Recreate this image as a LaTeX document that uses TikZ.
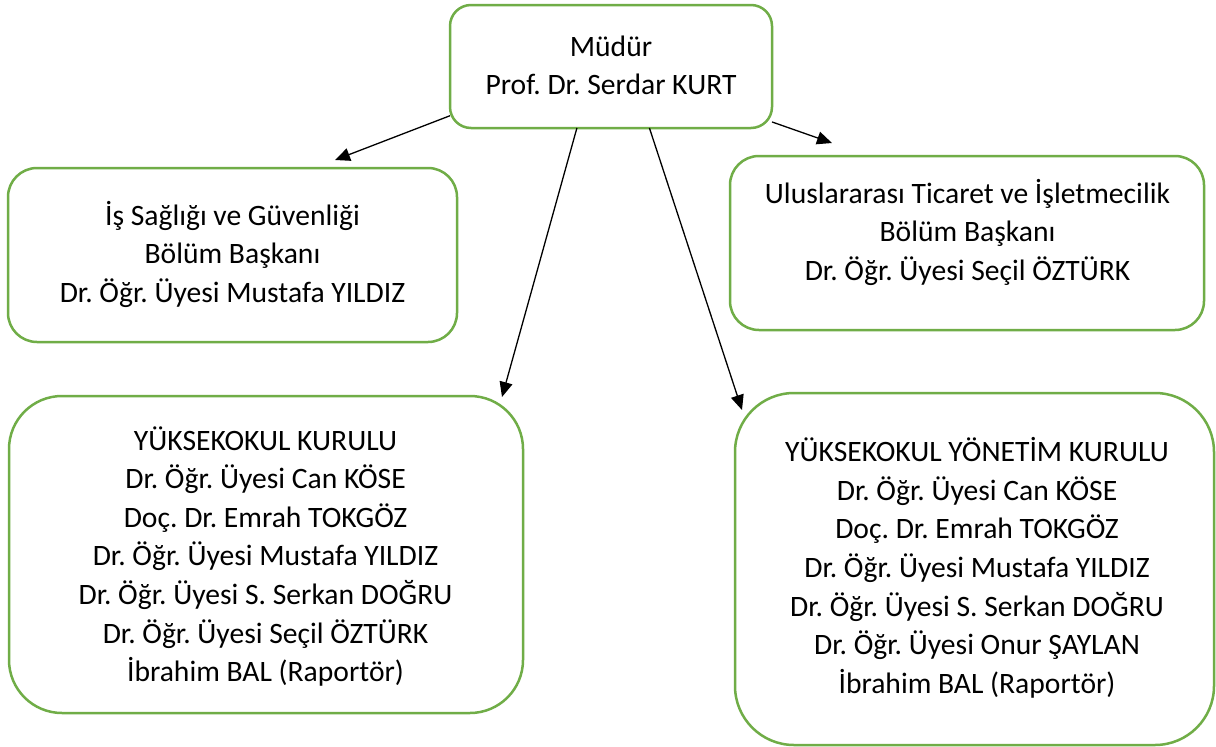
\documentclass[tikz,border=0pt]{standalone}
\usepackage{fontspec}
\setmainfont{Carlito}
\usetikzlibrary{arrows.meta}
\definecolor{boxgreen}{HTML}{70AD47}
\newcommand\boxlines[1]{\vtop{\frenchspacing\baselineskip=38.6pt\halign{\hfil##\hfil\cr#1\crcr}}}
\begin{document}
\begin{tikzpicture}[x=1pt,y=-1pt,
  box/.style={draw=boxgreen,line width=2.5pt,fill=white,inner sep=0pt,outer sep=0pt},
  txt/.style={anchor=base,inner sep=0pt,font=\fontsize{29.6}{38.6}\selectfont},
  conn/.style={line width=1.3pt,-{Triangle[length=15pt,width=13pt]}}]
\useasboundingbox (0,0) rectangle (1216,747);
\fill[white] (0,0) rectangle (1216,747);
% boxes
\node[box,minimum width=322pt,minimum height=123pt,rounded corners=21pt] (mudur) at (611,66.5) {};
\node[box,minimum width=449pt,minimum height=174pt,rounded corners=29pt] (isg) at (232.5,255) {};
\node[box,minimum width=474pt,minimum height=174pt,rounded corners=29pt] (utic) at (967,243) {};
\node[box,minimum width=514pt,minimum height=317pt,rounded corners=53pt] (yk) at (266,554.5) {};
\node[box,minimum width=479pt,minimum height=352pt,rounded corners=59pt] (ykk) at (974.5,569) {};
% texts
\node[txt] (mudurT) at (611,56) {\boxlines{Müdür\cr Prof. Dr. Serdar KURT}};
\node[txt] (isgT) at (232.5,225) {\boxlines{İş Sağlığı ve Güvenliği\cr Bölüm Başkanı\cr Dr. Öğr. Üyesi Mustafa YILDIZ}};
\node[txt] (uticT) at (967.5,203) {\boxlines{Uluslararası Ticaret ve İşletmecilik\cr Bölüm Başkanı\cr Dr. Öğr. Üyesi Seçil ÖZTÜRK}};
\node[txt] (ykT) at (265.5,450) {\boxlines{YÜKSEKOKUL KURULU\cr Dr. Öğr. Üyesi Can KÖSE\cr Doç. Dr. Emrah TOKGÖZ\cr Dr. Öğr. Üyesi Mustafa YILDIZ\cr Dr. Öğr. Üyesi S. Serkan DOĞRU\cr Dr. Öğr. Üyesi Seçil ÖZTÜRK\cr İbrahim BAL (Raportör)}};
\node[txt] (ykkT) at (977,461.7) {\boxlines{YÜKSEKOKUL YÖNETİM KURULU\cr Dr. Öğr. Üyesi Can KÖSE\cr Doç. Dr. Emrah TOKGÖZ\cr Dr. Öğr. Üyesi Mustafa YILDIZ\cr Dr. Öğr. Üyesi S. Serkan DOĞRU\cr Dr. Öğr. Üyesi Onur ŞAYLAN\cr İbrahim BAL (Raportör)}};
% arrow tips
\coordinate (tipIsg) at (335,160);
\coordinate (tipYk) at (502,397);
\coordinate (tipYkk) at (742,410);
\coordinate (tipUtic) at (832,143);
% connectors
\draw[conn] (mudur.197.5) -- (tipIsg);
\draw[conn] (mudur.241.8) -- (tipYk);
\draw[conn] (mudur.302.4) -- (tipYkk);
\draw[conn] (mudur.341.9) -- (tipUtic);
\end{tikzpicture}
\end{document}
